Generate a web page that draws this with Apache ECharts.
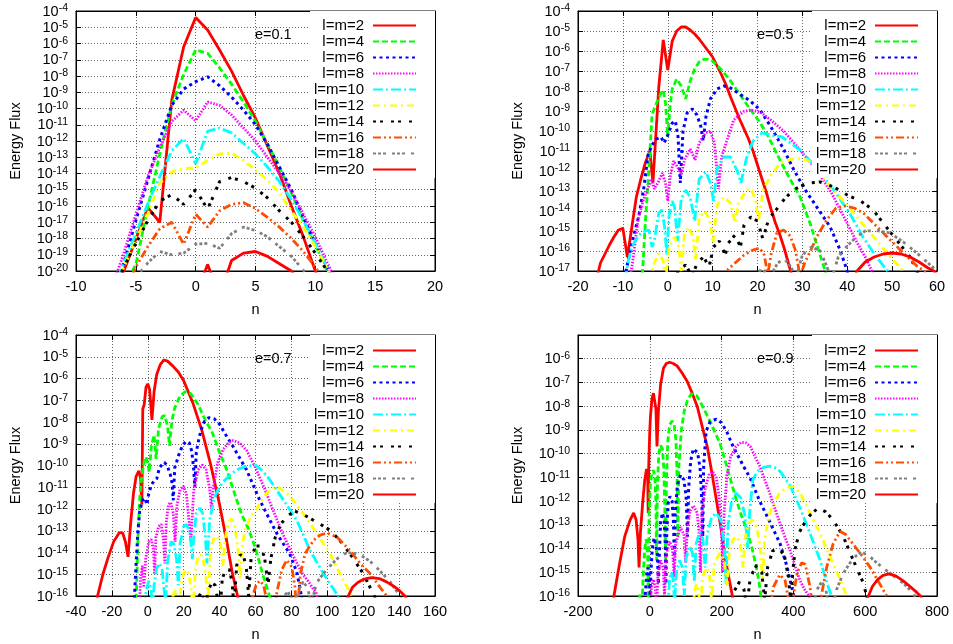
<!DOCTYPE html>
<html><head><meta charset="utf-8">
<script src="https://cdn.jsdelivr.net/npm/echarts@6/dist/echarts.min.js"></script>
<style>html,body{margin:0;padding:0;background:#fff}#c{width:953px;height:644px}</style>
</head><body><div id="c"></div>
<script>
// Series names (legend)
const NAMES = ['l=m=2','l=m=4','l=m=6','l=m=8','l=m=10','l=m=12','l=m=14','l=m=16','l=m=18','l=m=20'];
const PANEL_LABELS = ['e=0.1','e=0.5','e=0.7','e=0.9'];
// x ranges [min,max,interval] and y exponent ranges [minExp,maxExp]
const X_RANGE = [[-10,20,5],[-20,60,10],[-40,160,20],[-200,800,200]];
const Y_EXP = [[-20,-4],[-17,-4],[-16,-4],[-16,-5]];

// ---- data: [n, log10(Energy Flux)] ----
// e = 0.1
const e01_l2 = [[-7,-22],[-6,-20],[-5,-18.05],[-4,-16.1],[-3,-17],[-2,-9.5],[-1,-6.2],[0,-4.4],[1,-5.17],[2,-6.4],[3,-7.7],[4,-9.2],[5,-10.6],[6,-12.3],[7,-14],[8,-16],[9,-17.9],[10,-20],[11,-22]];
const e01_l4 = [[-6,-21],[-5,-19.6],[-4,-16.1],[-3,-12.8],[-2,-9.8],[-1,-7.9],[0,-6.4],[1,-6.6],[2,-7.5],[3,-8.5],[4,-9.6],[5,-10.8],[6,-12.2],[7,-13.6],[8,-15.2],[9,-16.9],[10,-18.4],[11,-20],[12,-21.5]];
const e01_l6 = [[-7,-22],[-6,-19.5],[-5,-16.9],[-4,-14.4],[-3,-11.9],[-2,-9.8],[-1,-8.8],[0,-8.35],[1,-8.05],[2,-8.6],[3,-9.3],[4,-10.1],[5,-11],[6,-12.2],[7,-13.6],[8,-15],[9,-16.7],[10,-18.3],[11,-19.8],[12,-21.5]];
const e01_l8 = [[-7,-21],[-6,-18.9],[-5,-16.5],[-4,-14.2],[-3,-12.4],[-2,-10.8],[-1,-10.1],[0,-10.75],[1,-9.6],[2,-9.8],[3,-10.4],[4,-11.2],[5,-12],[6,-13],[7,-14],[8,-15.1],[9,-16.5],[10,-17.9],[11,-19.5],[12,-21]];
const e01_l10 = [[-7,-21.5],[-6,-19.5],[-5,-17.7],[-4,-15.85],[-3,-14.2],[-2,-12.6],[-1,-11.85],[0,-13.4],[1,-11.4],[2,-11.2],[3,-11.5],[4,-12.15],[5,-12.8],[6,-13.6],[7,-14.5],[8,-15.6],[9,-16.9],[10,-18.3],[11,-19.8],[12,-21.5]];
const e01_l12 = [[-7,-21.5],[-6,-19.75],[-5,-18.1],[-4,-16.5],[-3,-14.6],[-2,-13.9],[-1,-13.7],[0,-13.65],[1,-13.2],[2,-12.8],[3,-12.75],[4,-13.2],[5,-13.8],[6,-14.4],[7,-15.2],[8,-16.3],[9,-17.3],[10,-18.5],[11,-19.85],[12,-21.5]];
const e01_l14 = [[-7,-21.5],[-6,-19.75],[-5,-18.3],[-4,-16.9],[-3,-15.7],[-2,-15.3],[-1,-15.9],[0,-15],[1,-16.2],[2,-14.5],[3,-14.25],[4,-14.5],[5,-14.9],[6,-15.5],[7,-16.3],[8,-17],[9,-17.9],[10,-18.9],[11,-20],[12,-21.5]];
const e01_l16 = [[-6,-21.5],[-5,-19.75],[-4,-18.5],[-3,-17.4],[-2,-17.0],[-1,-18.35],[0,-16.5],[1,-17.3],[2,-16.3],[3,-15.9],[4,-15.8],[5,-16.15],[6,-16.7],[7,-17.3],[8,-18],[9,-18.8],[10,-19.75],[11,-21]];
const e01_l18 = [[-6,-21.5],[-5,-20.4],[-4,-19.5],[-3,-18.8],[-2,-19.0],[-1,-18.9],[0,-18.35],[1,-18.3],[2,-18.6],[3,-17.7],[4,-17.3],[5,-17.5],[6,-17.9],[7,-18.5],[8,-19.1],[9,-19.95],[10,-21]];
const e01_l20 = [[-1,-22],[0,-21.5],[1,-19.6],[2,-21.5],[3,-19.35],[4,-18.9],[5,-18.8],[6,-19.1],[7,-19.55],[8,-20],[9,-21]];

// e = 0.5
const e05_l2 = [[-17,-18.5],[-15,-16.6],[-13,-15.7],[-12,-15.3],[-11,-14.95],[-10,-14.87],[-9,-16.3],[-8,-14.8],[-7,-13.3],[-6,-12.4],[-5,-11.6],[-4,-11.0],[-3.3,-12.6],[-2,-7.8],[-1,-5.45],[0,-6.95],[1,-5.5],[2,-5.0],[3,-4.8],[4,-4.8],[5,-4.95],[6,-5.15],[7,-5.4],[8,-5.7],[9,-6.0],[10,-6.3],[11,-6.75],[12,-7.2],[13,-7.7],[14,-8.3],[15,-8.85],[16,-9.4],[17,-9.9],[18,-10.4],[19,-11.0],[20,-11.7],[21,-12.4],[22,-13.1],[23,-13.9],[24,-14.6],[25,-15.2],[26,-15.9],[27,-16.7],[28,-17.5]];
const e05_l4 = [[-6,-19],[-5.6,-17],[-5,-14.6],[-4.4,-12.6],[-3.5,-9.2],[-2.7,-8.7],[-1.5,-8.1],[-1,-7.95],[-0.5,-8.6],[0,-10.3],[0.5,-8.8],[1,-7.9],[2,-7.4],[3,-7.75],[4,-8.4],[5,-7.5],[6,-6.9],[7,-6.55],[8,-6.42],[9,-6.42],[10,-6.5],[12,-6.95],[14,-7.5],[16,-8.15],[18,-8.8],[20,-9.4],[22,-10.1],[25,-11.45],[27,-12.3],[29.5,-13.3],[31.7,-14.6],[34.3,-16.45],[35.5,-17.3]];
const e05_l6 = [[-10,-18],[-9.3,-17],[-8,-15.6],[-6.5,-14.3],[-5.3,-12.8],[-4.4,-11.2],[-3.5,-10.7],[-2.5,-10.4],[-1.5,-10.3],[-0.8,-10.6],[0,-10.2],[1,-9.6],[1.7,-9.5],[2.3,-10.3],[2.8,-12.6],[3.4,-10],[4.3,-9.1],[5.5,-8.9],[6.5,-9.2],[7.4,-9.8],[7.9,-10.5],[8.5,-9.3],[9.5,-8.4],[11,-7.9],[12.5,-7.75],[14,-7.85],[16,-8.15],[18.4,-8.5],[20.6,-8.95],[23,-9.8],[25.8,-10.9],[28,-11.9],[30.5,-12.9],[33.2,-13.8],[36.2,-14.8],[38.4,-15.95],[40,-17],[40.5,-17.6]];
const e05_l8 = [[-8.5,-17.5],[-7.8,-16.5],[-6.6,-14.4],[-5.5,-13.5],[-4.5,-12.9],[-3.6,-12.4],[-3,-12.9],[-2,-12.5],[-1.2,-12.1],[-0.5,-12.6],[0,-13.5],[0.6,-12.2],[1.3,-11.5],[2.2,-11.8],[3,-12.2],[3.8,-11.4],[5,-10.9],[6.1,-11.45],[7,-10.6],[8.4,-10.1],[9.5,-10.0],[10.4,-10.6],[11.3,-12.9],[12,-11.3],[13,-10.6],[14.7,-9.45],[16.9,-9.03],[18.4,-8.95],[20.6,-9.05],[23,-9.45],[25.8,-10.0],[29.5,-10.95],[33,-11.9],[36.5,-13.1],[39.5,-14.4],[42,-15.5],[44,-16.3],[45.5,-17],[46.5,-17.5]];
const e05_l10 = [[-9.5,-17.5],[-8.8,-16.5],[-8,-15.8],[-7,-15.4],[-6,-15.1],[-5,-15.0],[-4.2,-14.95],[-3.5,-15.8],[-3,-15.5],[-2,-14.1],[-1.3,-13.95],[-0.7,-14.8],[-0.2,-16.2],[0.3,-14.2],[1,-13.5],[1.5,-13.8],[2.2,-15.5],[3,-13.4],[4,-12.95],[5,-13.3],[6,-14.5],[7,-12.4],[8.5,-12.05],[9.5,-12.6],[10.2,-13.5],[11,-11.9],[12.5,-11.3],[14,-11.3],[15.5,-12.0],[16.3,-12.6],[17.5,-11.4],[19,-10.5],[21,-10.1],[23,-10.2],[25.5,-10.3],[29.5,-10.95],[33,-11.8],[37,-12.95],[40.5,-14.1],[43.5,-15.3],[46.5,-16.3],[49,-17],[50,-17.5]];
const e05_l12 = [[-4,-17.5],[-3,-16.6],[-2,-16.1],[-1,-16.5],[-0.5,-17.5],[0.3,-15.8],[1.5,-15.3],[2.5,-15.8],[3,-17],[3.7,-15.2],[4.7,-14.8],[5.6,-15.3],[6.2,-16.5],[7,-14.4],[8.2,-14.0],[9.3,-14.4],[10.1,-15.6],[11,-13.7],[12.5,-13.3],[14,-13.6],[15,-14.6],[15.8,-13.6],[17.5,-12.95],[18.5,-12.9],[19.5,-13.4],[20.2,-14.5],[21.3,-12.95],[23,-12.2],[25,-11.65],[27.5,-11.4],[29.5,-11.37],[31.5,-11.5],[34.7,-12.4],[38,-13.2],[41,-14],[44,-14.8],[47,-15.6],[50,-16.4],[52.5,-17],[53.5,-17.5]];
const e05_l14 = [[1.5,-17.5],[2.5,-16.9],[4,-16.7],[5.5,-17.3],[6.5,-16.6],[8,-16.3],[9.2,-16.8],[10.2,-15.8],[11.5,-15.5],[12.8,-16.2],[13.5,-15.6],[15,-15.2],[16.2,-15.8],[17,-14.7],[18.5,-14.3],[20,-14.5],[21.2,-15.4],[22.5,-14.4],[24.3,-13.9],[26,-13.4],[28,-12.95],[31,-12.6],[34,-12.55],[37,-12.8],[40,-13.2],[43,-13.5],[45.8,-13.95],[48,-14.6],[51,-15.45],[54,-16.3],[55.5,-17],[56.5,-17.5]];
const e05_l16 = [[12.5,-17.5],[13.5,-16.9],[15,-16.6],[17,-16.2],[19,-15.95],[20.5,-15.85],[21.5,-16.2],[22.3,-17.2],[23,-16.2],[24.3,-15.1],[25.8,-14.95],[27.3,-15.25],[28.5,-16],[29.5,-17.3],[30.5,-16.6],[32,-15.9],[33.2,-15.3],[35.4,-14.45],[37.5,-13.85],[39.5,-13.75],[41.5,-13.85],[43.6,-14.1],[46.6,-14.78],[49.6,-15.45],[52.5,-16.1],[55.5,-16.75],[58.5,-17.2],[60,-17.6]];
const e05_l18 = [[19.5,-17.5],[21,-16.8],[22.5,-17.4],[24.5,-16.6],[26,-16.4],[27.5,-16.8],[28.5,-17.4],[30,-16.2],[32,-15.8],[34,-16],[35.5,-16.8],[36.5,-17.4],[38,-16.3],[40,-15.75],[42,-15.3],[44,-15.0],[46.5,-14.98],[49.5,-15.1],[52.5,-15.55],[55.5,-16.1],[58.5,-16.7],[60,-17]];
const e05_l20 = [[41,-17.6],[42.2,-17],[44,-16.55],[46,-16.3],[48,-16.15],[50,-16.1],[52,-16.15],[54,-16.3],[56,-16.55],[58,-16.85],[59.3,-17],[60,-17.2]];

// e = 0.7
const e07_l2 = [[-30,-17],[-28,-16],[-25,-15.0],[-22,-14.2],[-19,-13.5],[-16,-13.1],[-14,-13.1],[-12.5,-13.5],[-11,-14.2],[-9.5,-12.6],[-8,-11.3],[-6.5,-10.5],[-5,-10.25],[-4,-10.6],[-3.3,-11.8],[-2.8,-7.4],[-2,-7.2],[-1,-6.4],[0,-6.25],[1,-6.5],[2.3,-7.9],[3.5,-6.6],[5,-5.8],[7,-5.35],[9,-5.15],[11,-5.2],[14,-5.43],[17,-5.7],[20,-6.1],[25,-7.1],[30,-8.35],[35,-9.95],[40,-11.8],[44,-13.5],[47,-14.9],[50,-16],[52,-17]];
const e07_l4 = [[-7,-17],[-6.2,-15.5],[-5.5,-13.4],[-4.5,-11.5],[-3.5,-10.6],[-2,-9.8],[-1,-9.6],[0,-9.9],[0.8,-10.3],[2,-9.1],[3.5,-8.6],[4.6,-9.7],[6,-8.3],[8,-7.75],[9.5,-7.7],[11,-8.2],[12.1,-9.1],[13.5,-7.9],[15,-7.35],[18,-6.8],[21,-6.6],[24,-6.7],[28,-7.2],[32,-7.9],[36,-8.5],[40,-9.4],[44,-10.2],[48,-11.2],[52,-12.2],[56,-12.9],[60,-13.8],[64,-15],[68,-16.05],[70,-16.6]];
const e07_l6 = [[-8,-17],[-7.4,-16],[-6.5,-14.5],[-5.5,-13],[-4.5,-12.1],[-3,-11.6],[-1.5,-11.5],[-0.5,-11.8],[0.5,-11.3],[2,-10.9],[3.5,-10.7],[5,-10.6],[6.5,-10.1],[8,-9.95],[9.3,-9.85],[11,-10.05],[12.5,-10.4],[13.5,-10.8],[14.2,-11.6],[15,-10.1],[16,-9.85],[17.6,-9.43],[19.5,-9.05],[21.4,-8.89],[23.2,-8.97],[24.5,-9.35],[25.5,-10.1],[26.2,-11],[27,-9.4],[28,-8.95],[29.7,-8.35],[31.6,-7.97],[34,-7.8],[37,-7.85],[40,-8.1],[43.5,-8.6],[47.5,-9.13],[55,-10.2],[62.4,-11.6],[71.7,-13.1],[79,-14.05],[83,-14.9],[85.6,-16],[87,-16.8]];
const e07_l8 = [[-5,-17],[-4,-15.2],[-3,-14.6],[-2.2,-15.6],[-1.2,-14.3],[0.5,-13.5],[2,-13.4],[3.2,-13.9],[3.8,-15],[4.5,-13.3],[6,-12.8],[7.5,-12.7],[8.7,-13.4],[9.5,-14.5],[10.3,-12.6],[11.5,-11.8],[12.8,-11.7],[14.2,-12.2],[15.2,-13.5],[16.3,-11.8],[18,-11.1],[19.8,-10.95],[21.5,-11.3],[23,-12.6],[24,-13.5],[25.5,-11.2],[28,-10.2],[30.3,-9.97],[32.5,-10.2],[34.5,-11.1],[35.5,-12],[36.5,-11],[39,-9.85],[42,-9.25],[45,-8.95],[47.5,-8.85],[51,-8.95],[55,-9.3],[60,-10.1],[65,-11.05],[70,-12.1],[75,-13.1],[80,-14.0],[86,-14.95],[90,-15.4],[94,-15.9],[96,-16.5]];
const e07_l10 = [[-2,-16.5],[-1,-15.8],[0.5,-15.3],[1.8,-15.7],[2.7,-16.6],[3.5,-15.5],[5,-14.7],[6.5,-14.5],[8,-14.8],[9.2,-15.8],[10,-16.3],[11,-14.4],[13,-13.5],[14.5,-13.6],[16,-14.3],[17,-15.5],[18,-13.6],[20,-12.8],[21.5,-12.7],[23.5,-13.1],[24.8,-14.3],[25.6,-13.3],[27,-12.2],[29,-11.95],[30.5,-12.2],[32,-13.2],[33,-14.5],[34.5,-12.5],[37,-11.5],[39.2,-11.1],[42,-10.75],[45.7,-10.45],[49.4,-10.2],[55,-10.03],[60,-9.98],[64,-10.25],[68,-10.66],[75.5,-11.58],[82.9,-12.5],[90.4,-13.9],[97.8,-14.97],[105.2,-15.9],[108,-16.5]];
const e07_l12 = [[12.5,-16.8],[14,-16.0],[15.5,-15.7],[16.5,-16.1],[17.3,-16.8],[18.5,-15.5],[20,-14.95],[21.5,-14.8],[23,-15.0],[24.3,-15.8],[25.2,-16.8],[26.5,-14.8],[28,-14.2],[29.5,-14.1],[31,-14.35],[32.5,-15.2],[33.5,-16.3],[35,-13.9],[37,-13.3],[38.5,-13.25],[40.5,-13.6],[42,-14.6],[43,-13.4],[45,-12.6],[46.5,-12.45],[48.5,-12.8],[50.5,-14],[51.5,-15.2],[52.5,-13.8],[54,-13.0],[57,-12.4],[60.6,-12.0],[64.4,-11.45],[68,-11.12],[72.5,-10.97],[79,-11.4],[86.6,-12.2],[94,-13.1],[101.5,-14.05],[107,-14.97],[113,-15.9],[116.5,-16.6]];
const e07_l14 = [[26,-16.8],[27.5,-16.1],[29.5,-15.9],[31,-16.2],[32,-16.9],[33.5,-15.8],[35.5,-15.4],[37.5,-15.5],[39,-16.2],[40,-16.9],[41.5,-15.2],[43.5,-14.75],[45.5,-14.8],[47,-15.4],[48,-16.5],[49.5,-14.6],[51.5,-14.1],[53.5,-14.2],[55,-14.8],[56.2,-16],[57.5,-14.3],[60,-13.7],[62.5,-13.7],[65,-14.2],[67,-15.5],[68.5,-14.3],[71,-13.3],[74,-12.7],[78,-12.3],[82,-12.1],[86.6,-12.25],[93,-12.55],[101.5,-12.97],[107,-13.45],[112.6,-14.05],[120,-14.97],[125.6,-15.9],[129,-16.5]];
const e07_l16 = [[57,-16.8],[58.5,-16],[60.5,-15.45],[62.5,-15.3],[64.5,-15.5],[66,-16.1],[67,-17],[70,-16.8],[72,-15.8],[74.6,-14.8],[77.4,-14.35],[80.2,-14.66],[82,-15.6],[83,-16.8],[84,-16],[85,-15],[87.6,-14.05],[92.2,-13.45],[96,-13.2],[99.7,-13.1],[105.2,-13.28],[112.6,-13.9],[118.2,-14.5],[123.8,-14.97],[129.4,-15.6],[133.1,-16],[135,-16.5]];
const e07_l18 = [[74,-16.8],[76,-16],[78,-15.8],[80,-16.1],[81.5,-16.9],[83.5,-15.8],[86.5,-15.35],[89,-15.6],[91,-16.4],[92.2,-16],[94,-15.4],[97.8,-14.97],[101.5,-14.62],[106,-14.25],[111,-14.0],[116,-14.05],[120,-14.2],[123.8,-14.4],[129.4,-14.85],[135,-15.35],[140.5,-16],[142,-16.3]];
const e07_l20 = [[110,-16.5],[111.7,-16],[114,-15.6],[117,-15.38],[120.5,-15.22],[124.7,-15.15],[129,-15.2],[133,-15.35],[137,-15.55],[140.5,-15.78],[143.3,-16],[145,-16.3]];

// e = 0.9
const e09_l2 = [[-110,-17],[-100,-16],[-85,-14.7],[-70,-13.5],[-55,-12.8],[-45,-12.5],[-38,-12.8],[-33,-13.6],[-30,-14.8],[-26,-13.3],[-20,-12.1],[-14,-11.1],[-9,-10.65],[-6,-10.8],[-4.5,-12.5],[-3,-10.5],[0,-9.0],[2,-8.4],[6,-7.7],[10,-7.45],[14,-7.5],[17,-8.1],[20,-9.7],[24,-8.2],[30,-7.1],[38,-6.4],[46,-6.2],[55,-6.15],[65,-6.2],[76,-6.3],[90,-6.6],[104,-6.95],[118,-7.45],[132,-8.0],[145,-8.8],[160,-9.7],[174,-10.9],[187,-12.1],[200,-13.3],[210,-14.4],[220,-15.2],[230,-16],[240,-17]];
const e09_l4 = [[-35,-17],[-28,-15.9],[-22,-16.5],[-18,-15],[-14,-14],[-10,-13.6],[-6,-14.2],[-4,-16.5],[-2,-12.5],[2,-11.2],[6,-10.8],[10,-10.7],[14,-11.0],[17,-12],[19,-14.5],[21,-11.5],[25,-10],[30,-9.65],[35,-9.8],[39,-10.6],[42,-12.5],[44,-14.5],[46,-11.5],[50,-9.5],[55,-8.8],[62,-8.62],[68,-8.8],[73,-9.5],[76,-11],[78,-13.5],[81,-10.5],[88,-9.0],[96,-8.2],[105,-7.75],[115,-7.5],[122,-7.48],[130,-7.55],[140,-7.8],[150,-8.1],[160,-8.4],[170,-8.7],[180,-9.05],[195,-9.55],[210,-10.3],[225,-11.1],[240,-11.9],[255,-12.6],[270,-13.2],[285,-14.0],[297,-14.8],[305,-15.5],[312,-16.3]];
const e09_l6 = [[-16,-16.5],[-12,-15.8],[-8,-15.0],[-5,-14.8],[-2,-15.1],[1,-16],[3,-15],[7,-14],[12,-13.55],[17,-13.6],[21,-14.2],[24,-15.5],[26,-14.5],[30,-12.9],[35,-12.5],[40,-12.8],[43,-13.8],[45,-15.5],[47,-13.5],[51,-12.1],[56,-11.8],[62,-12.0],[66,-12.9],[68.5,-14.5],[71,-12.5],[77,-11.3],[86,-10.9],[95,-11.1],[101,-11.8],[105,-13.5],[108,-11.5],[114,-10.3],[121,-9.8],[126,-9.75],[133,-9.95],[140,-10.6],[145,-12],[147.5,-13.5],[150,-10.5],[157,-9.05],[168,-8.65],[185,-8.55],[200,-8.7],[215,-9.1],[232,-9.7],[260,-10.5],[280,-11.05],[306,-12.0],[335,-12.9],[363,-13.8],[381,-14.7],[395,-15.6],[403,-16.1],[408,-16.5]];
const e09_l8 = [[0,-16.5],[5,-15.6],[10,-15.3],[15,-15.6],[19,-16.5],[23,-15],[30,-14.5],[37,-14.8],[41,-16],[45,-14.3],[55,-13.7],[63,-14.0],[68,-15.2],[72,-13.8],[85,-13.1],[95,-13.4],[100,-14.6],[104,-13.2],[112,-12.4],[122,-12.2],[132,-12.5],[138,-13.5],[141,-15],[145,-12.5],[155,-11.4],[165,-10.9],[175,-10.75],[185,-11.0],[193,-11.8],[199,-13.2],[203,-15],[207,-12.5],[215,-10.9],[225,-10.15],[240,-9.7],[255,-9.52],[268,-9.55],[280,-9.7],[297,-10.25],[307,-10.55],[320,-11.1],[334,-11.66],[348,-12.3],[362,-12.9],[376,-13.5],[390,-14.05],[404,-14.7],[417,-15.3],[430,-15.7],[445,-16.05],[450,-16.3]];
const e09_l10 = [[50,-16.5],[55,-15.3],[60,-15.0],[65,-15.3],[69,-16.3],[74,-15],[83,-14.5],[91,-14.8],[96,-16],[101,-14.4],[111,-13.9],[119,-14.2],[124,-15.4],[129,-13.8],[139,-13.3],[148,-13.6],[154,-14.8],[160,-13.4],[172,-12.7],[185,-12.5],[198,-12.8],[207,-13.8],[212,-15.5],[218,-13],[228,-12.0],[240,-11.66],[253,-11.85],[265,-12.6],[273,-14],[278,-12.5],[287,-11.1],[300,-10.75],[317,-10.58],[334,-10.53],[350,-10.6],[363,-10.75],[391,-11.35],[419,-12.3],[446,-13.35],[474,-14.48],[497,-15.6],[507,-16.05],[512,-16.4]];
const e09_l12 = [[120,-16.5],[125,-15.8],[130,-15.5],[136,-15.8],[141,-16.6],[147,-15.2],[157,-14.8],[166,-15.1],[172,-16.2],[180,-14.6],[195,-14.2],[207,-14.5],[215,-15.6],[222,-14.1],[233,-13.6],[242,-13.5],[252,-13.8],[260,-14.8],[266,-13.5],[275,-12.95],[286,-12.8],[298,-13.1],[308,-14.0],[314,-15.4],[320,-13.6],[334,-12.5],[343,-12.2],[361,-11.66],[380,-11.43],[398,-11.38],[419,-11.66],[446,-12.5],[474,-13.35],[502,-14.34],[530,-15.3],[549,-16],[562,-16.5]];
const e09_l14 = [[225,-16.5],[235,-15.8],[250,-15.4],[262,-15.7],[270,-16.5],[280,-15.2],[298,-14.7],[312,-15.0],[320,-16.2],[328,-14.8],[342,-14.1],[360,-14.0],[375,-14.3],[386,-15.2],[393,-16.3],[398,-15],[405,-14],[417,-13.3],[430,-12.95],[446,-12.6],[468,-12.3],[490,-12.45],[511,-12.8],[539,-13.5],[567,-14.5],[595,-15.46],[604,-16],[610,-16.4]];
const e09_l16 = [[335,-16.5],[345,-15.6],[362,-15.1],[377,-15.35],[388,-16.3],[400,-16],[410,-15.05],[423,-14.6],[433,-14.66],[446,-15.6],[452,-16.3],[470,-16.8],[479,-15.9],[493,-14.77],[511,-13.78],[530,-13.28],[545,-13.4],[558,-13.65],[586,-14.2],[613,-14.77],[641,-15.5],[660,-16],[668,-16.4]];
const e09_l18 = [[455,-16.5],[465,-15.75],[479,-15.4],[490,-15.7],[498,-16.4],[510,-16.5],[521,-15.7],[539,-15.04],[558,-14.6],[575,-14.3],[590,-14.15],[610,-14.3],[632,-14.6],[669,-15.04],[706,-15.46],[735,-15.9],[745,-16.2]];
const e09_l20 = [[600,-16.5],[609,-16],[620,-15.6],[635,-15.3],[650,-15.13],[666,-15.07],[685,-15.15],[705,-15.35],[725,-15.6],[745,-15.87],[754,-16],[760,-16.2]];

const PANEL_DATA = [
  [e01_l2,e01_l4,e01_l6,e01_l8,e01_l10,e01_l12,e01_l14,e01_l16,e01_l18,e01_l20],
  [e05_l2,e05_l4,e05_l6,e05_l8,e05_l10,e05_l12,e05_l14,e05_l16,e05_l18,e05_l20],
  [e07_l2,e07_l4,e07_l6,e07_l8,e07_l10,e07_l12,e07_l14,e07_l16,e07_l18,e07_l20],
  [e09_l2,e09_l4,e09_l6,e09_l8,e09_l10,e09_l12,e09_l14,e09_l16,e09_l18,e09_l20]
];

// ---- styles / layout ----
const COLORS = ['#ff0000','#00ff00','#0000ff','#ff00ff','#00ffff','#ffff00','#000000','#ff4d00','#808080','#ff0000'];
const DASHES = ['solid',[6,3],[3,3.5],[1.5,1.5],[10,3,2,3],[7,4,2,4],[3,4,3,8],[8,3,2,3,2,3],[3,2,3,2,3,6],'solid'];
const WIDTHS = [2.8,2.8,3,2.8,2.8,2.8,3,2.8,2.8,2.8];
const GRIDS = [
  {left:76, top:11, width:359, height:260},
  {left:578, top:11, width:359, height:260},
  {left:76, top:335, width:359, height:261},
  {left:578, top:335, width:359, height:261}
];
const LABEL_POS = [[255,27],[757,27],[255,351],[757,351]];
const FONT = '"Liberation Sans", Arial, Helvetica, sans-serif';
const W = 953;

const grid = [], xAxis = [], yAxis = [], series = [], legend = [], graphic = [];
const splitStyle = {show:true, lineStyle:{color:'#666', width:1, type:[1,2]}};
GRIDS.forEach((g, i) => {
  grid.push({left:g.left, top:g.top, width:g.width, height:g.height, show:true, borderColor:'#000', borderWidth:1, backgroundColor:'transparent'});
  const [xmin, xmax, xint] = X_RANGE[i];
  const [emin, emax] = Y_EXP[i];
  const ymin = Number('1e' + emin), ymax = Number('1e' + emax);
  const hideTop = (i === 3);
  xAxis.push({
    type:'value', gridIndex:i, position:'bottom', min:xmin, max:xmax, interval:xint,
    axisLine:{show:true, onZero:false, lineStyle:{color:'#000'}},
    axisTick:{show:true, inside:true, length:5, lineStyle:{color:'#000'}},
    splitLine:splitStyle,
    axisLabel:{color:'#000', fontSize:14.5, fontFamily:FONT, margin:8, showMinLabel:true, showMaxLabel:true, hideOverlap:false, formatter:v => String(v)},
    name:'n', nameLocation:'middle', nameGap:31, nameTextStyle:{color:'#000', fontSize:14.5, fontFamily:FONT}
  });
  xAxis.push({
    type:'value', gridIndex:i, position:'top', min:xmin, max:xmax, interval:xint,
    axisLine:{show:true, onZero:false, lineStyle:{color:'#000'}},
    axisTick:{show:true, inside:true, length:5, lineStyle:{color:'#000'}},
    splitLine:{show:false}, axisLabel:{show:false}
  });
  yAxis.push({
    type:'log', logBase:10, gridIndex:i, position:'left', min:ymin, max:ymax, interval:1,
    axisLine:{show:true, onZero:false, lineStyle:{color:'#000'}},
    axisTick:{show:true, inside:true, length:5, lineStyle:{color:'#000'}},
    splitLine:splitStyle,
    axisLabel:{
      margin:8, showMinLabel:true, showMaxLabel:true, hideOverlap:false, fontSize:14.5, fontFamily:FONT, color:'#000',
      formatter: v => { const e = Math.round(Math.log10(v)); if (hideTop && e >= emax) return ''; return '{b|10}{s|' + e + '}'; },
      rich:{
        b:{fontSize:14.5, fontFamily:FONT, color:'#000', lineHeight:16, verticalAlign:'bottom'},
        s:{fontSize:10.5, fontFamily:FONT, color:'#000', lineHeight:5, verticalAlign:'top'}
      }
    },
    name:'Energy Flux', nameLocation:'middle', nameGap:53, nameTextStyle:{color:'#000', fontSize:14.5, fontFamily:FONT}
  });
  yAxis.push({
    type:'log', logBase:10, gridIndex:i, position:'right', min:ymin, max:ymax, interval:1,
    axisLine:{show:true, onZero:false, lineStyle:{color:'#000'}},
    axisTick:{show:true, inside:true, length:5, lineStyle:{color:'#000'}},
    splitLine:{show:false}, axisLabel:{show:false}
  });
  PANEL_DATA[i].forEach((arr, k) => {
    series.push({
      type:'line', name:NAMES[k], xAxisIndex:2*i, yAxisIndex:2*i,
      data: arr.map(p => [p[0], Math.pow(10, p[1])]),
      symbol:'none', showSymbol:false, clip:true, silent:true, animation:false,
      lineStyle:{color:COLORS[k], width:WIDTHS[k], type:DASHES[k]},
      itemStyle:{color:COLORS[k], opacity:0}, z:2
    });
  });
  legend.push({
    data:NAMES, orient:'vertical', align:'right', selectedMode:false,
    right: W - (g.left + g.width), top: g.top,
    itemWidth:43, itemHeight:14, itemGap:1,
    padding:[i < 2 ? 7 : 8, 18, 1, 4], backgroundColor:'#fff',
    itemStyle:{opacity:0},
    textStyle:{color:'#000', fontSize:15, fontFamily:FONT, lineHeight:14, padding:[0,4,0,0]},
    z:10
  });
  graphic.push({type:'text', left:LABEL_POS[i][0], top:LABEL_POS[i][1], z:20,
    style:{text:PANEL_LABELS[i], fill:'#000', font:'14.5px ' + FONT}});
});

const chart = echarts.init(document.getElementById('c'), null, {renderer:'canvas', width:953, height:644});
chart.setOption({backgroundColor:'#fff', animation:false, grid, xAxis, yAxis, series, legend, graphic});
</script></body></html>
